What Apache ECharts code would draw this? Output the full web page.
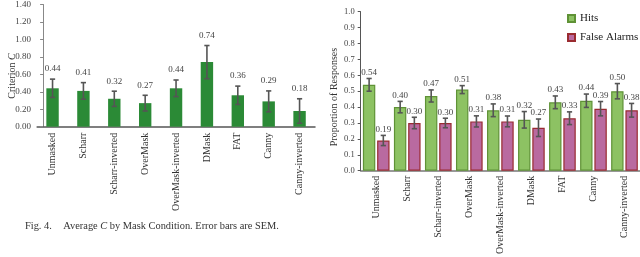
<!DOCTYPE html>
<html><head><meta charset="utf-8">
<script src="https://cdn.jsdelivr.net/npm/echarts@6/dist/echarts.min.js"></script>
<style>html,body{margin:0;padding:0;background:#fff}#c{width:640px;height:257px}</style>
</head><body><div id="c"></div>
<script>
const categories = ['Unmasked','Scharr','Scharr-inverted','OverMask','OverMask-inverted','DMask','FAT','Canny','Canny-inverted'];
const criterionC = [0.44,0.41,0.32,0.27,0.44,0.74,0.36,0.29,0.18];
const criterionSEM = [0.105,0.095,0.087,0.09,0.095,0.19,0.105,0.12,0.14];
const hits = [0.54,0.40,0.47,0.51,0.38,0.32,0.43,0.44,0.50];
const hitsSEM = [0.04,0.036,0.038,0.025,0.04,0.052,0.04,0.042,0.048];
const falseAlarms = [0.19,0.30,0.30,0.31,0.31,0.27,0.33,0.39,0.38];
const faSEM = [0.032,0.036,0.03,0.035,0.034,0.055,0.04,0.045,0.043];
const leftAxisMin = 0, leftAxisMax = 1.4, leftAxisStep = 0.2;
const rightAxisMin = 0, rightAxisMax = 1.0, rightAxisStep = 0.1;

const FONT = '"Liberation Serif", "Times New Roman", serif';

function errData(vals, errs) {
  return vals.map((v, i) => [i, v - errs[i], v + errs[i], v]);
}
function errRender(offset, gap) {
  return function (params, api) {
    const i = api.value(0);
    const lo = api.coord([i, api.value(1)]);
    const hi = api.coord([i, api.value(2)]);
    const v = api.value(3);
    const x = hi[0] + offset;
    const cap = 2.6;
    const st = { stroke: '#555', lineWidth: 1.6 };
    return {
      type: 'group',
      children: [
        { type: 'line', shape: { x1: x, y1: hi[1], x2: x, y2: lo[1] }, style: st },
        { type: 'line', shape: { x1: x - cap, y1: hi[1], x2: x + cap, y2: hi[1] }, style: st },
        { type: 'line', shape: { x1: x - cap, y1: lo[1], x2: x + cap, y2: lo[1] }, style: st },
        { type: 'text', style: { text: v.toFixed(2), x: x, y: hi[1] - gap,
          align: 'center', verticalAlign: 'middle', textAlign: 'center', textVerticalAlign: 'middle',
          fontSize: 9, fontFamily: FONT, fill: '#444' } }
      ]
    };
  };
}

const chart = echarts.init(document.getElementById('c'), null, { renderer: 'canvas' });
chart.setOption({
  backgroundColor: '#fff',
  animation: false,
  textStyle: { fontFamily: FONT },
  grid: [
    { left: 37.1, top: 4, width: 277.9, height: 122.7 },
    { left: 360.7, top: 11.7, width: 279.9, height: 165 }
  ],
  legend: {
    orient: 'vertical', left: 567, top: 13, padding: 0, itemWidth: 7, itemHeight: 7, itemGap: 8,
    icon: 'rect', data: ['Hits', 'False Alarms'],
    textStyle: { fontSize: 11, fontFamily: FONT, color: '#222' }
  },
  xAxis: [
    { type: 'category', gridIndex: 0, data: categories,
      axisLine: { lineStyle: { color: '#555', width: 1.5 } }, axisTick: { show: false },
      axisLabel: { rotate: 90, interval: 0, fontSize: 10, fontFamily: FONT, color: '#333', margin: 6 } },
    { type: 'category', gridIndex: 1, data: categories,
      axisLine: { lineStyle: { color: '#777', width: 1.5 } }, axisTick: { show: false },
      axisLabel: { rotate: 90, interval: 0, fontSize: 10, fontFamily: FONT, color: '#333', margin: 5 } }
  ],
  yAxis: [
    { type: 'value', gridIndex: 0, min: leftAxisMin, max: leftAxisMax, interval: leftAxisStep, offset: -6,
      splitLine: { show: false },
      axisLine: { show: true, lineStyle: { color: '#888', width: 1 } },
      axisTick: { show: true, length: 3, lineStyle: { color: '#888' } },
      axisLabel: { formatter: v => v.toFixed(2), fontSize: 9, fontFamily: FONT, color: '#444', margin: 12 } },
    { type: 'value', gridIndex: 1, min: rightAxisMin, max: rightAxisMax, interval: rightAxisStep,
      splitLine: { show: false },
      axisLine: { show: true, lineStyle: { color: '#555', width: 1 } },
      axisTick: { show: true, length: 3, lineStyle: { color: '#555' } },
      axisLabel: { formatter: v => v.toFixed(1), fontSize: 8.5, fontFamily: FONT, color: '#444', margin: 6 } }
  ],
  series: [
    { type: 'bar', name: 'Criterion', xAxisIndex: 0, yAxisIndex: 0, data: criterionC, barWidth: 12.4,
      itemStyle: { color: '#2b8a36' } },
    { type: 'custom', xAxisIndex: 0, yAxisIndex: 0, data: errData(criterionC, criterionSEM),
      encode: { x: 0, y: [1, 2] }, renderItem: errRender(0, 10), z: 5 },
    { type: 'bar', name: 'Hits', xAxisIndex: 1, yAxisIndex: 1, data: hits, barWidth: 12.4, barGap: '15%',
      itemStyle: { color: '#8dc263', borderColor: '#5f9236', borderWidth: 1.2 } },
    { type: 'bar', name: 'False Alarms', xAxisIndex: 1, yAxisIndex: 1, data: falseAlarms, barWidth: 12.4, barGap: '15%',
      itemStyle: { color: '#b96aa0', borderColor: '#9a2b30', borderWidth: 1.2 } },
    { type: 'custom', xAxisIndex: 1, yAxisIndex: 1, data: errData(hits, hitsSEM),
      encode: { x: 0, y: [1, 2] }, renderItem: errRender(-7.1, 6), z: 5 },
    { type: 'custom', xAxisIndex: 1, yAxisIndex: 1, data: errData(falseAlarms, faSEM),
      encode: { x: 0, y: [1, 2] }, renderItem: errRender(7.1, 6), z: 5 }
  ],
  graphic: [
    { type: 'text', x: 12, y: 76, rotation: Math.PI / 2, style: {
      text: '{a|Criterion }{b|C}', align: 'center', verticalAlign: 'middle',
      rich: { a: { fontSize: 10, fontFamily: FONT, fill: '#333', color: '#333' },
              b: { fontSize: 10, fontFamily: FONT, fill: '#333', color: '#333', fontStyle: 'italic' } } } },
    { type: 'text', x: 334, y: 97, rotation: Math.PI / 2, style: {
      text: 'Proportion of Responses', align: 'center', verticalAlign: 'middle',
      fontSize: 10, fontFamily: FONT, fill: '#333' } },
    { type: 'text', left: 25, top: 221, style: { text: 'Fig. 4.', fontSize: 10.4, fontFamily: FONT, fill: '#333' } },
    { type: 'text', left: 63.3, top: 221, style: {
      text: '{a|Average }{b|C}{a| by Mask Condition. Error bars are SEM.}',
      rich: { a: { fontSize: 10.4, fontFamily: FONT, fill: '#333', color: '#333' },
              b: { fontSize: 10.4, fontFamily: FONT, fill: '#333', color: '#333', fontStyle: 'italic' } } } }
  ]
});
</script></body></html>
